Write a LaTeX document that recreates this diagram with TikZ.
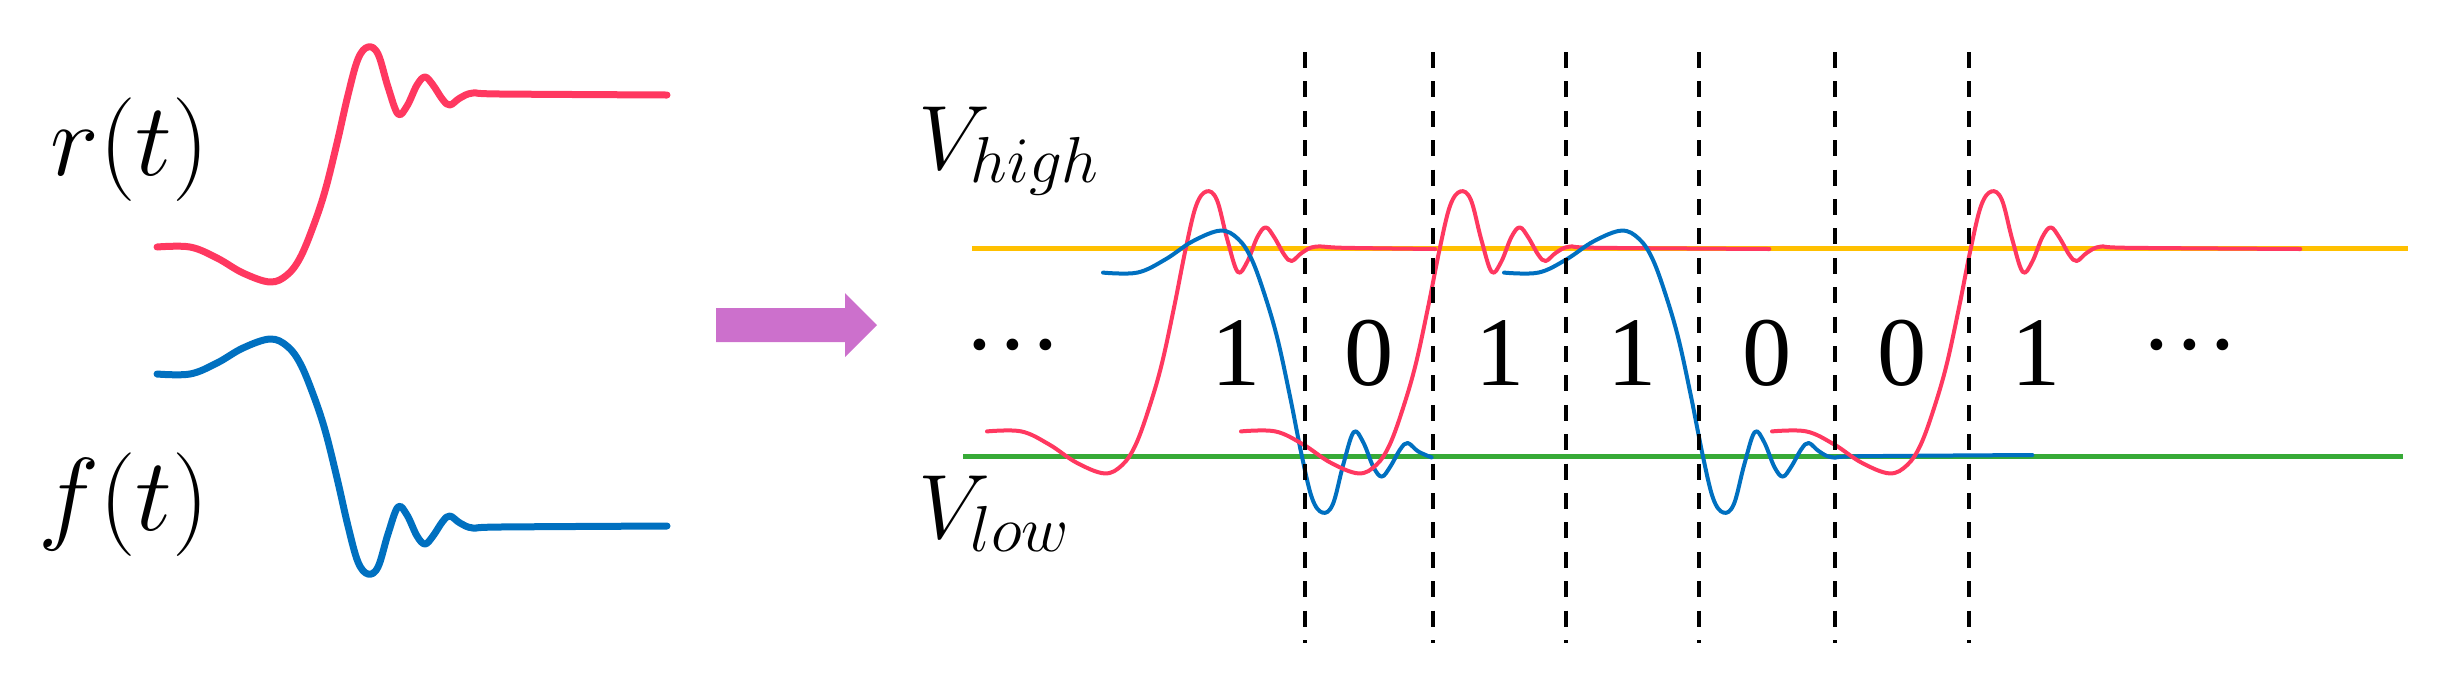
\documentclass[tikz,border=0pt]{standalone}
\usepackage{fix-cm}
\usepackage{fontspec}
\newfontfamily\timesfont{Liberation Serif}
\DeclareMathSizes{26}{26}{18.5}{14}
\definecolor{sigred}{RGB}{255,56,96}
\definecolor{sigblue}{RGB}{0,112,192}
\definecolor{vhighc}{RGB}{255,192,0}
\definecolor{vlowc}{RGB}{55,170,55}
\definecolor{arrowpink}{RGB}{204,112,204}
\newcommand\wave[2]{\draw[#1] plot[smooth,tension=0.6] coordinates {(0,152) (33,152) (60,163) (86,178) (113,187) (130,180) (143,163) (156,132) (168,96) (180,48) (191,0) (201,-36) (211,-48) (221,-41) (231,-8) (241,19) (250,11) (260,-10) (268,-18) (276,-10) (286,5) (293,10) (303,3) (316,-2) #2};}
\begin{document}
\begin{tikzpicture}[x=0.1mm,y=-0.1mm,
  bigwave/.style={line width=0.7mm, line cap=round, line join=round},
  smallwave/.style={line width=0.4mm, line cap=round, line join=round},
  threshold/.style={line width=0.5mm},
  bitline/.style={line width=0.35mm, dash pattern=on 1.6mm off 1.34mm},
  mathlbl/.style={inner sep=0pt, font=\fontsize{29.5}{33}\selectfont},
  vlbl/.style={inner sep=0pt, font=\fontsize{26}{30}\selectfont},
  bitlbl/.style={inner sep=0pt, font=\timesfont\fontsize{28}{32}\selectfont, anchor=base},
  dotslbl/.style={inner sep=0pt, font=\timesfont\fontsize{28}{32}\selectfont, anchor=north},
]
\useasboundingbox (0,0) rectangle (2448,680);

% left panel
\wave{sigred, bigwave, shift={(157,95)}}{(343,-1) (510,0)}
\wave{sigblue, bigwave, shift={(157,526)}, yscale=-1}{(343,-1) (510,0)}
\node[mathlbl, anchor=base east] (rlabel) at (210,175) {$r(t)$};
\node[mathlbl, anchor=base east] (flabel) at (210,530) {$f(t)$};

% arrow
\fill[arrowpink] (716,308) -- (845,308) -- (845,293) -- (877,325) -- (845,357) -- (845,342) -- (716,342) -- cycle;

% thresholds
\coordinate (yh0) at (972,248);
\coordinate (yh1) at (2408,248);
\coordinate (gl0) at (963,456);
\coordinate (gl1) at (2403,456);
\draw[threshold, vhighc] (yh0) -- (yh1);
\draw[threshold, vlowc] (gl0) -- (gl1);

% waveforms
\wave{sigred, smallwave, shift={(987,249)}, xscale=1.04, yscale=1.2}{(343,-1) (431,0)}
\wave{sigblue, smallwave, shift={(1103,455)}, xscale=1.04, yscale=-1.2}{}
\wave{sigred, smallwave, shift={(1241,249)}, xscale=1.04, yscale=1.2}{(343,-1) (508,0)}
\wave{sigblue, smallwave, shift={(1504,455)}, xscale=1.04, yscale=-1.2}{(343,-1) (508,0)}
\wave{sigred, smallwave, shift={(1772,249)}, xscale=1.04, yscale=1.2}{(343,-1) (508,0)}

% bit boundaries
\foreach \x in {1305,1433,1566,1699,1835,1969}
  \draw[bitline] (\x,52) -- (\x,643);

% labels
\node[vlbl, anchor=base west] (vhighlbl) at (918,169) {$V_{high}$};
\node[vlbl, anchor=base west] (vlowlbl) at (918,538) {$V_{low}$};
\node[dotslbl] (ldots) at (1013,338) {···};
\node[dotslbl] (rdots) at (2190,338) {···};
\node[bitlbl] (b1) at (1236,385) {1};
\node[bitlbl] (b2) at (1369,385) {0};
\node[bitlbl] (b3) at (1500,385) {1};
\node[bitlbl] (b4) at (1632,385) {1};
\node[bitlbl] (b5) at (1767,385) {0};
\node[bitlbl] (b6) at (1902,385) {0};
\node[bitlbl] (b7) at (2036,385) {1};
\end{tikzpicture}
\end{document}
